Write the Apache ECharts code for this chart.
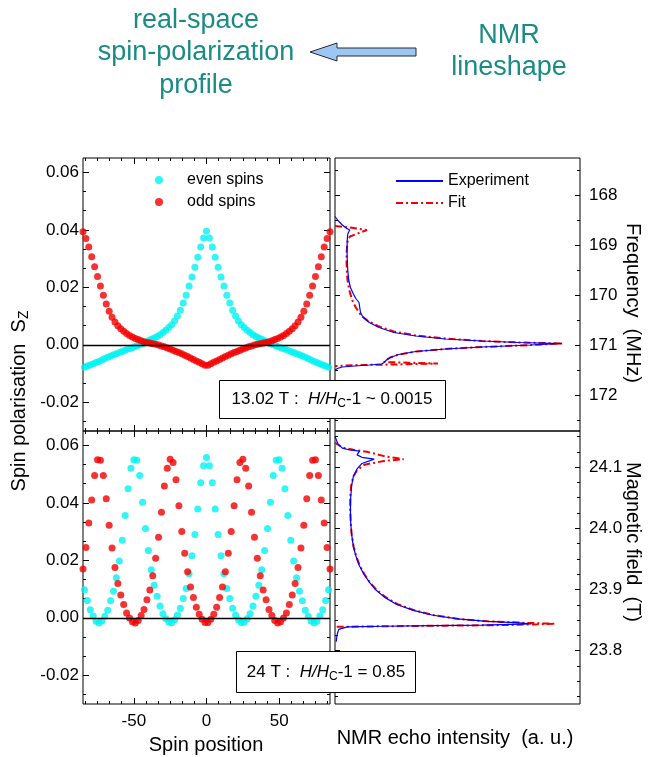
<!DOCTYPE html>
<html><head><meta charset="utf-8">
<script src="https://cdn.jsdelivr.net/npm/echarts@6/dist/echarts.min.js"></script>
<style>html,body{margin:0;padding:0;background:#fff}#c{width:649px;height:757px}</style>
</head><body><div id="c"></div>
<script>
// ---------- data ----------
const evenPos = [-84,-82,-80,-78,-76,-74,-72,-70,-68,-66,-64,-62,-60,-58,-56,-54,-52,-50,-48,-46,-44,-42,-40,-38,-36,-34,-32,-30,-28,-26,-24,-22,-20,-18,-16,-14,-12,-10,-8,-6,-4,-2,0,2,4,6,8,10,12,14,16,18,20,22,24,26,28,30,32,34,36,38,40,42,44,46,48,50,52,54,56,58,60,62,64,66,68,70,72,74,76,78,80,82,84];
const oddPos = [-85,-83,-81,-79,-77,-75,-73,-71,-69,-67,-65,-63,-61,-59,-57,-55,-53,-51,-49,-47,-45,-43,-41,-39,-37,-35,-33,-31,-29,-27,-25,-23,-21,-19,-17,-15,-13,-11,-9,-7,-5,-3,-1,1,3,5,7,9,11,13,15,17,19,21,23,25,27,29,31,33,35,37,39,41,43,45,47,49,51,53,55,57,59,61,63,65,67,69,71,73,75,77,79,81,83,85];

// 13.02 T panel
const evenTop = [-0.0078,-0.0074,-0.0070,-0.0066,-0.0062,-0.0058,-0.0053,-0.0048,-0.0043,-0.0039,-0.0035,-0.0031,-0.0027,-0.0023,-0.0019,-0.0015,-0.0012,-0.0008,-0.0004,0.0000,0.0004,0.0009,0.0014,0.0019,0.0024,0.0029,0.0035,0.0043,0.0051,0.0060,0.0070,0.0083,0.0100,0.0120,0.0145,0.0172,0.0205,0.0236,0.0270,0.0305,0.0340,0.0372,
  0.0395,
  0.0372,0.0340,0.0305,0.0270,0.0236,0.0205,0.0172,0.0145,0.0120,0.0100,0.0083,0.0070,0.0060,0.0051,0.0043,0.0035,0.0029,0.0024,0.0019,0.0014,0.0009,0.0004,0.0000,-0.0004,-0.0008,-0.0012,-0.0015,-0.0019,-0.0023,-0.0027,-0.0031,-0.0035,-0.0039,-0.0043,-0.0048,-0.0053,-0.0058,-0.0062,-0.0066,-0.0070,-0.0074,-0.0078];
const oddTop = [0.0393,0.0370,0.0340,0.0306,0.0272,0.0238,0.0205,0.0172,0.0142,0.0117,0.0096,0.0079,0.0066,0.0056,0.0047,0.0039,0.0032,0.0027,0.0022,0.0018,0.0014,0.0011,0.0008,0.0006,0.0004,0.0002,-0.0001,-0.0004,-0.0007,-0.0011,-0.0015,-0.0019,-0.0023,-0.0027,-0.0031,-0.0036,-0.0041,-0.0046,-0.0051,-0.0056,-0.0061,-0.0066,-0.0071,
  -0.0071,-0.0066,-0.0061,-0.0056,-0.0051,-0.0046,-0.0041,-0.0036,-0.0031,-0.0027,-0.0023,-0.0019,-0.0015,-0.0011,-0.0007,-0.0004,-0.0001,0.0002,0.0004,0.0006,0.0008,0.0011,0.0014,0.0018,0.0022,0.0027,0.0032,0.0039,0.0047,0.0056,0.0066,0.0079,0.0096,0.0117,0.0142,0.0172,0.0205,0.0238,0.0272,0.0306,0.0340,0.0370,0.0393];

// 24 T panel
const evenBot = [0.0098,0.0060,0.0028,0.0006,-0.0012,-0.0018,-0.0011,0.0005,0.0026,0.0059,0.0092,0.0139,0.0198,0.0270,0.0356,0.0449,0.0520,0.0550,0.0548,0.0495,0.0402,0.0311,0.0234,0.0167,0.0113,0.0075,0.0041,0.0014,-0.0003,-0.0015,-0.0017,-0.0007,0.0010,0.0033,0.0067,0.0102,0.0153,0.0216,0.0290,0.0379,0.0470,0.0529,
  0.0558,
  0.0529,0.0470,0.0379,0.0290,0.0216,0.0153,0.0102,0.0067,0.0033,0.0010,-0.0007,-0.0017,-0.0015,-0.0003,0.0014,0.0041,0.0075,0.0113,0.0167,0.0234,0.0311,0.0402,0.0495,0.0548,0.0550,0.0520,0.0449,0.0356,0.0270,0.0198,0.0139,0.0092,0.0059,0.0026,0.0005,-0.0011,-0.0018,-0.0012,0.0006,0.0028,0.0060,0.0098];
const oddBot = [0.0170,0.0245,0.0330,0.0410,0.0495,0.0550,0.0548,0.0495,0.0414,0.0322,0.0243,0.0175,0.0119,0.0079,0.0046,0.0017,-0.0001,-0.0014,-0.0018,-0.0009,0.0008,0.0029,0.0063,0.0097,0.0146,0.0207,0.0280,0.0367,0.0459,0.0520,0.0552,0.0540,0.0480,0.0390,0.0300,0.0225,0.0160,0.0107,0.0071,0.0037,0.0012,-0.0005,-0.0016,
  -0.0016,-0.0005,0.0012,0.0037,0.0071,0.0107,0.0160,0.0225,0.0300,0.0390,0.0480,0.0540,0.0552,0.0520,0.0459,0.0367,0.0280,0.0207,0.0146,0.0097,0.0063,0.0029,0.0008,-0.0009,-0.0018,-0.0014,-0.0001,0.0017,0.0046,0.0079,0.0119,0.0175,0.0243,0.0322,0.0414,0.0495,0.0548,0.0550,0.0495,0.0410,0.0330,0.0245,0.0170];

// NMR lineshapes: [intensity (a.u.), frequency MHz]
const expFreq = [[0.000,168.43],[0.014,168.52],[0.030,168.60],[0.045,168.66],[0.060,168.70],[0.052,168.78],[0.050,168.90],[0.049,169.10],[0.050,169.30],[0.052,169.50],[0.056,169.70],[0.063,169.85],[0.075,169.98],[0.085,170.07],[0.098,170.15],[0.101,170.25],[0.104,170.35],[0.115,170.45],[0.140,170.55],[0.180,170.65],[0.240,170.75],[0.330,170.82],[0.450,170.88],[0.600,170.92],[0.750,170.95],[0.925,170.97],[0.800,171.00],[0.600,171.04],[0.450,171.08],[0.330,171.13],[0.260,171.19],[0.225,171.25],[0.210,171.30],[0.200,171.35],[0.190,171.38],[0.140,171.40],[0.080,171.42],[0.030,171.44],[0.010,171.47],[0.000,171.50]];
const fitFreq = [[0.000,168.62],[0.060,168.65],[0.130,168.70],[0.061,168.83],[0.052,168.90],[0.048,169.10],[0.047,169.30],[0.048,169.50],[0.051,169.70],[0.058,169.90],[0.070,170.10],[0.085,170.25],[0.105,170.40],[0.135,170.52],[0.175,170.62],[0.240,170.73],[0.330,170.81],[0.450,170.87],[0.600,170.92],[0.750,170.95],[0.930,170.97],[0.800,171.00],[0.600,171.04],[0.450,171.08],[0.330,171.13],[0.260,171.19],[0.225,171.25],[0.210,171.30],[0.200,171.34],[0.300,171.355],[0.420,171.37],[0.250,171.39],[0.100,171.40],[0.000,171.42]];
// [intensity (a.u.), field T]
const expField = [[0.000,24.150],[0.012,24.138],[0.030,24.131],[0.060,24.128],[0.100,24.126],[0.090,24.120],[0.110,24.116],[0.160,24.113],[0.110,24.106],[0.090,24.097],[0.075,24.085],[0.068,24.070],[0.064,24.050],[0.063,24.030],[0.064,24.010],[0.068,23.990],[0.075,23.970],[0.085,23.955],[0.098,23.940],[0.118,23.925],[0.140,23.912],[0.165,23.900],[0.200,23.888],[0.250,23.876],[0.320,23.866],[0.400,23.858],[0.500,23.852],[0.620,23.848],[0.740,23.846],[0.800,23.844],[0.600,23.842],[0.400,23.841],[0.200,23.840],[0.050,23.839],[0.015,23.835],[0.008,23.825],[0.005,23.815]];
const fitField = [[0.000,24.140],[0.030,24.132],[0.080,24.128],[0.130,24.125],[0.200,24.118],[0.280,24.113],[0.200,24.110],[0.120,24.104],[0.090,24.095],[0.075,24.085],[0.066,24.070],[0.062,24.050],[0.062,24.030],[0.064,24.010],[0.068,23.990],[0.076,23.970],[0.086,23.955],[0.100,23.940],[0.120,23.925],[0.142,23.912],[0.168,23.900],[0.205,23.888],[0.255,23.876],[0.325,23.866],[0.405,23.858],[0.505,23.852],[0.625,23.848],[0.750,23.846],[0.900,23.844],[0.700,23.842],[0.450,23.841],[0.200,23.840],[0.000,23.839]];

// ticks
const posMajor = [-50,0,50];
const posMinor = [-83.33,-75,-66.67,-58.33,-41.67,-33.33,-25,-16.67,-8.33,8.33,16.67,25,33.33,41.67,58.33,66.67,75,83.33];
const szMajor = [-0.02,0,0.02,0.04,0.06];
const szMinor = [-0.0267,-0.0133,-0.0067,0.0067,0.0133,0.0267,0.0333,0.0467,0.0533];
const freqMajor = [168,169,170,171,172];
const freqMinor = [167.5,168.5,169.5,170.5,171.5,172.5];
const fieldMajor = [23.8,23.9,24.0,24.1];
const fieldMinor = [23.725,23.75,23.775,23.825,23.85,23.875,23.925,23.95,23.975,24.025,24.05,24.075,24.125,24.15];

// ---------- chart ----------
const FONT = '"Liberation Sans", Arial, sans-serif';
const TEAL = '#1a8c84';
const zip = (xs, ys) => xs.map((x, i) => [x, ys[i]]);

function ax(gi, pos, min, max, ticks, len, extra) {
  return Object.assign({
    type: 'value', gridIndex: gi, position: pos, min: min, max: max,
    axisLine: {show: false, onZero: false}, splitLine: {show: false},
    axisTick: {show: true, inside: true, length: len, customValues: ticks, lineStyle: {color: '#000', width: 1}},
    axisLabel: {show: false}
  }, extra || {});
}
function lbl(ticks, fmt, margin) {
  return {axisLabel: {show: true, customValues: ticks, formatter: fmt, fontSize: 17, color: '#000', fontFamily: FONT, margin: margin}};
}
const fmt2 = v => v.toFixed(2);
const fmt0 = v => v.toFixed(0);
const fmt1 = v => v.toFixed(1);

const grids = [
  {left: 83, top: 158, width: 247, height: 273},
  {left: 83, top: 431, width: 247, height: 273},
  {left: 335, top: 158, width: 245, height: 273},
  {left: 335, top: 431, width: 245, height: 273}
].map(g => Object.assign(g, {show: true, borderColor: '#000', borderWidth: 1, backgroundColor: 'transparent'}));

const xAxes = [
  ax(0, 'bottom', -85, 85, posMajor, 6), ax(0, 'bottom', -85, 85, posMinor, 3),
  ax(0, 'top', -85, 85, posMajor, 6), ax(0, 'top', -85, 85, posMinor, 3),
  ax(1, 'bottom', -85, 85, posMajor, 6, lbl(posMajor, fmt0, 9)), ax(1, 'bottom', -85, 85, posMinor, 3),
  ax(1, 'top', -85, 85, posMajor, 6), ax(1, 'top', -85, 85, posMinor, 3),
  {type: 'value', gridIndex: 2, min: 0, max: 1, show: false},
  {type: 'value', gridIndex: 3, min: 0, max: 1, show: false}
];
const yAxes = [
  ax(0, 'left', -0.03, 0.065, szMajor, 6, lbl(szMajor, fmt2, 4)), ax(0, 'left', -0.03, 0.065, szMinor, 3),
  ax(0, 'right', -0.03, 0.065, szMajor, 6), ax(0, 'right', -0.03, 0.065, szMinor, 3),
  ax(1, 'left', -0.03, 0.065, szMajor, 6, lbl(szMajor, fmt2, 4)), ax(1, 'left', -0.03, 0.065, szMinor, 3),
  ax(1, 'right', -0.03, 0.065, szMajor, 6), ax(1, 'right', -0.03, 0.065, szMinor, 3),
  ax(2, 'right', 167.26, 172.72, freqMajor, 5, Object.assign({inverse: true}, lbl(freqMajor, fmt0, 9))),
  ax(2, 'right', 167.26, 172.72, freqMinor, 3, {inverse: true}),
  ax(2, 'left', 167.26, 172.72, freqMajor, 5, {inverse: true}),
  ax(2, 'left', 167.26, 172.72, freqMinor, 3, {inverse: true}),
  ax(3, 'right', 23.713, 24.159, fieldMajor, 5, lbl(fieldMajor, fmt1, 9)),
  ax(3, 'right', 23.713, 24.159, fieldMinor, 3),
  ax(3, 'left', 23.713, 24.159, fieldMajor, 5),
  ax(3, 'left', 23.713, 24.159, fieldMinor, 3)
];

const zeroLine = {silent: true, symbol: 'none', label: {show: false}, lineStyle: {color: '#000', width: 1.3, type: 'solid'}, data: [{yAxis: 0}], animation: false};
const CYAN = '#00f2f2', RED = '#f40000', BLUE = '#0000ff';

const series = [
  {name: 'even spins', type: 'scatter', xAxisIndex: 0, yAxisIndex: 0, data: zip(evenPos, evenTop), symbolSize: 7, itemStyle: {color: CYAN}},
  {name: 'odd spins', type: 'scatter', xAxisIndex: 0, yAxisIndex: 0, data: zip(oddPos, oddTop), symbolSize: 7, itemStyle: {color: RED}, markLine: zeroLine},
  {name: 'even spins', type: 'scatter', xAxisIndex: 4, yAxisIndex: 4, data: zip(evenPos, evenBot), symbolSize: 7, itemStyle: {color: CYAN}},
  {name: 'odd spins', type: 'scatter', xAxisIndex: 4, yAxisIndex: 4, data: zip(oddPos, oddBot), symbolSize: 7, itemStyle: {color: RED}, markLine: zeroLine},
  {name: 'Fit', type: 'line', xAxisIndex: 8, yAxisIndex: 8, data: fitFreq, symbol: 'none', showSymbol: false, lineStyle: {color: RED, width: 2, type: [7, 3, 2, 3]}, itemStyle: {color: RED}},
  {name: 'Experiment', type: 'line', xAxisIndex: 8, yAxisIndex: 8, data: expFreq, symbol: 'none', showSymbol: false, lineStyle: {color: BLUE, width: 1.2}, itemStyle: {color: BLUE}},
  {name: 'Fit', type: 'line', xAxisIndex: 9, yAxisIndex: 12, data: fitField, symbol: 'none', showSymbol: false, lineStyle: {color: RED, width: 2, type: [7, 3, 2, 3]}, itemStyle: {color: RED}},
  {name: 'Experiment', type: 'line', xAxisIndex: 9, yAxisIndex: 12, data: expField, symbol: 'none', showSymbol: false, lineStyle: {color: BLUE, width: 1.2}, itemStyle: {color: BLUE}}
];

const legendText = {fontSize: 16, fontFamily: FONT, color: '#000'};
const legends = [
  {data: ['even spins', 'odd spins'], orient: 'vertical', left: 155, top: 172, itemWidth: 46, itemHeight: 8, itemGap: 6, icon: 'circle', selectedMode: false, textStyle: legendText, padding: 0},
  {data: ['Experiment', 'Fit'], orient: 'vertical', left: 395, top: 173, itemWidth: 47, itemHeight: 14, itemGap: 6, selectedMode: false, textStyle: legendText, padding: 0, itemStyle: {opacity: 0}}
];

const T20 = {fontSize: 20, fontFamily: FONT, fill: '#000'};
const graphics = [
  {type: 'text', x: 196, y: 4, z: 100, style: {text: 'real-space\nspin-polarization\nprofile', fontSize: 27, fontFamily: FONT, fill: TEAL, align: 'center', verticalAlign: 'top', lineHeight: 32.5}},
  {type: 'text', x: 509, y: 20, z: 100, style: {text: 'NMR\nlineshape', fontSize: 27, fontFamily: FONT, fill: TEAL, align: 'center', verticalAlign: 'top', lineHeight: 32}},
  {type: 'polygon', z: 100, shape: {points: [[310, 52], [337, 43], [337, 48], [416, 48], [416, 56], [337, 56], [337, 61]]}, style: {fill: '#9cc6f4', stroke: '#2a2a2a', lineWidth: 1}},
  {type: 'text', x: 206, y: 745, z: 100, style: Object.assign({text: 'Spin position', align: 'center', verticalAlign: 'middle'}, T20)},
  {type: 'text', x: 455, y: 738, z: 100, style: Object.assign({text: 'NMR echo intensity  (a. u.)', align: 'center', verticalAlign: 'middle'}, T20)},
  {type: 'text', x: 19, y: 401, rotation: Math.PI / 2, z: 100, style: {text: '{a|Spin polarisation  S}{b|Z}', align: 'center', verticalAlign: 'middle',
    rich: {a: T20, b: {fontSize: 14, fontFamily: FONT, fill: '#000', padding: [10, 0, 0, 0]}}}},
  {type: 'text', x: 633, y: 303, rotation: -Math.PI / 2, z: 100, style: Object.assign({text: 'Frequency  (MHz)', align: 'center', verticalAlign: 'middle'}, T20)},
  {type: 'text', x: 633, y: 542, rotation: -Math.PI / 2, z: 100, style: Object.assign({text: 'Magnetic field  (T)', align: 'center', verticalAlign: 'middle'}, T20)},
  {type: 'rect', z: 100, shape: {x: 219.5, y: 380.5, width: 226, height: 38}, style: {fill: '#fff', stroke: '#000', lineWidth: 1}},
  {type: 'text', x: 332, y: 399, z: 101, style: {text: '{n|13.02 T :  }{i|H/H}{s|C}{n|-1 ~ 0.0015}', align: 'center', verticalAlign: 'middle',
    rich: {n: {fontSize: 17, fontFamily: FONT, fill: '#000'}, i: {fontSize: 17, fontFamily: FONT, fontStyle: 'italic', fill: '#000'}, s: {fontSize: 12, fontFamily: FONT, fill: '#000', padding: [9, 0, 0, 0]}}}},
  {type: 'rect', z: 100, shape: {x: 236.5, y: 651.5, width: 179, height: 41}, style: {fill: '#fff', stroke: '#000', lineWidth: 1}},
  {type: 'text', x: 326, y: 672, z: 101, style: {text: '{n|24 T :  }{i|H/H}{s|C}{n|-1 = 0.85}', align: 'center', verticalAlign: 'middle',
    rich: {n: {fontSize: 17, fontFamily: FONT, fill: '#000'}, i: {fontSize: 17, fontFamily: FONT, fontStyle: 'italic', fill: '#000'}, s: {fontSize: 12, fontFamily: FONT, fill: '#000', padding: [9, 0, 0, 0]}}}}
];

const chart = echarts.init(document.getElementById('c'), null, {renderer: 'canvas'});
chart.setOption({
  animation: false,
  backgroundColor: '#fff',
  grid: grids,
  xAxis: xAxes,
  yAxis: yAxes,
  legend: legends,
  series: series,
  graphic: graphics
});
</script>
</body></html>
